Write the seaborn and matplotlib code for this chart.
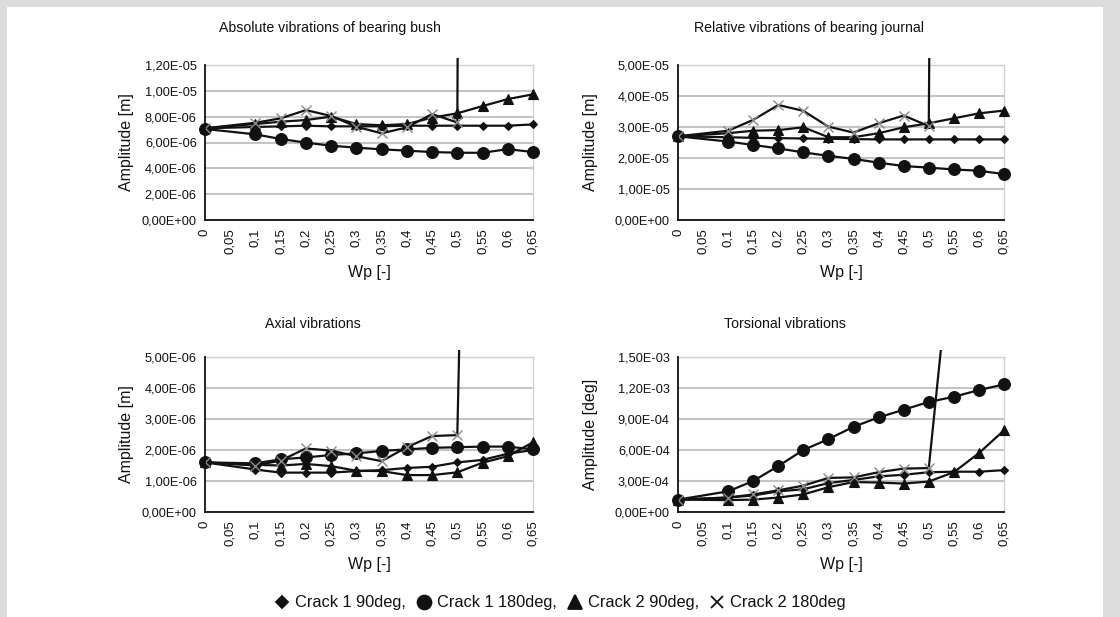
import numpy as np
import pandas as pd
import matplotlib
matplotlib.use("Agg")
import matplotlib.pyplot as plt
import seaborn as sns
from matplotlib.patches import Rectangle
from matplotlib.lines import Line2D

sns.set_theme(style="white")
plt.rcParams['font.family'] = ['Liberation Sans', 'DejaVu Sans']

# ---------------- data ----------------
wp = [0, 0.1, 0.15, 0.2, 0.25, 0.3, 0.35, 0.4, 0.45, 0.5, 0.55, 0.6, 0.65]
wp_ticks = [0, 0.05, 0.1, 0.15, 0.2, 0.25, 0.3, 0.35, 0.4, 0.45, 0.5, 0.55, 0.6, 0.65]
wp_labels = ["0", "0,05", "0,1", "0,15", "0,2", "0,25", "0,3", "0,35", "0,4", "0,45",
             "0,5", "0,55", "0,6", "0,65"]
series_names = ["Crack 1 90deg", "Crack 1 180deg", "Crack 2 90deg", "Crack 2 180deg"]

# Absolute vibrations of bearing bush [m]
abs_c1_90 = [7.1e-6, 7.2e-6, 7.25e-6, 7.3e-6, 7.25e-6, 7.25e-6, 7.25e-6, 7.3e-6, 7.3e-6, 7.3e-6, 7.3e-6, 7.3e-6, 7.4e-6]
abs_c1_180 = [7.05e-6, 6.63e-6, 6.27e-6, 5.99e-6, 5.75e-6, 5.6e-6, 5.47e-6, 5.37e-6, 5.26e-6, 5.21e-6, 5.2e-6, 5.49e-6, 5.26e-6]
abs_c2_90 = [7.1e-6, 7.43e-6, 7.61e-6, 7.74e-6, 8.0e-6, 7.43e-6, 7.33e-6, 7.43e-6, 7.92e-6, 8.26e-6, 8.82e-6, 9.36e-6, 9.73e-6]
abs_c2_180 = [7.1e-6, 7.53e-6, 7.87e-6, 8.51e-6, 8.05e-6, 7.22e-6, 6.71e-6, 7.17e-6, 8.2e-6, 7.55e-6, 4.0e-4, np.nan, np.nan]

# Relative vibrations of bearing journal [m]
rel_c1_90 = [2.7e-5, 2.67e-5, 2.65e-5, 2.64e-5, 2.63e-5, 2.62e-5, 2.61e-5, 2.6e-5, 2.6e-5, 2.6e-5, 2.6e-5, 2.6e-5, 2.6e-5]
rel_c1_180 = [2.7e-5, 2.53e-5, 2.42e-5, 2.31e-5, 2.18e-5, 2.07e-5, 1.97e-5, 1.85e-5, 1.74e-5, 1.69e-5, 1.63e-5, 1.59e-5, 1.48e-5]
rel_c2_90 = [2.7e-5, 2.8e-5, 2.88e-5, 2.9e-5, 2.99e-5, 2.67e-5, 2.67e-5, 2.8e-5, 2.99e-5, 3.12e-5, 3.28e-5, 3.44e-5, 3.53e-5]
rel_c2_180 = [2.7e-5, 2.88e-5, 3.23e-5, 3.71e-5, 3.52e-5, 3.01e-5, 2.82e-5, 3.12e-5, 3.37e-5, 3.03e-5, 1.2e-3, np.nan, np.nan]

# Axial vibrations [m]
ax_c1_90 = [1.6e-6, 1.37e-6, 1.27e-6, 1.27e-6, 1.27e-6, 1.32e-6, 1.35e-6, 1.42e-6, 1.46e-6, 1.6e-6, 1.68e-6, 1.88e-6, 2.0e-6]
ax_c1_180 = [1.6e-6, 1.57e-6, 1.7e-6, 1.76e-6, 1.84e-6, 1.89e-6, 1.97e-6, 2.02e-6, 2.07e-6, 2.09e-6, 2.11e-6, 2.11e-6, 2.02e-6]
ax_c2_90 = [1.6e-6, 1.52e-6, 1.5e-6, 1.55e-6, 1.48e-6, 1.33e-6, 1.32e-6, 1.19e-6, 1.19e-6, 1.28e-6, 1.59e-6, 1.8e-6, 2.25e-6]
ax_c2_180 = [1.6e-6, 1.5e-6, 1.66e-6, 2.05e-6, 1.98e-6, 1.8e-6, 1.64e-6, 2.09e-6, 2.45e-6, 2.48e-6, 4.0e-5, np.nan, np.nan]

# Torsional vibrations [deg]
tor_c1_90 = [1.2e-4, 1.4e-4, 1.6e-4, 2.0e-4, 2.2e-4, 2.8e-4, 3.1e-4, 3.45e-4, 3.6e-4, 3.85e-4, 3.9e-4, 3.9e-4, 4.05e-4]
tor_c1_180 = [1.2e-4, 2.0e-4, 3.0e-4, 4.45e-4, 6.0e-4, 7.05e-4, 8.25e-4, 9.15e-4, 9.9e-4, 1.065e-3, 1.115e-3, 1.18e-3, 1.235e-3]
tor_c2_90 = [1.2e-4, 1.15e-4, 1.2e-4, 1.4e-4, 1.7e-4, 2.4e-4, 2.9e-4, 2.85e-4, 2.75e-4, 2.95e-4, 3.85e-4, 5.7e-4, 7.9e-4]
tor_c2_180 = [1.2e-4, 1.4e-4, 1.7e-4, 2.1e-4, 2.55e-4, 3.3e-4, 3.35e-4, 3.85e-4, 4.2e-4, 4.25e-4, 2.8e-3, np.nan, np.nan]

titles = ["Absolute vibrations of bearing bush", "Relative vibrations of bearing journal",
          "Axial vibrations", "Torsional vibrations"]
ylabels = ["Amplitude [m]", "Amplitude [m]", "Amplitude [m]", "Amplitude [deg]"]
yticks_list = [
    [0, 2e-6, 4e-6, 6e-6, 8e-6, 1e-5, 1.2e-5],
    [0, 1e-5, 2e-5, 3e-5, 4e-5, 5e-5],
    [0, 1e-6, 2e-6, 3e-6, 4e-6, 5e-6],
    [0, 3e-4, 6e-4, 9e-4, 1.2e-3, 1.5e-3],
]
ylabels_ticks = [
    ["0,00E+00", "2,00E-06", "4,00E-06", "6,00E-06", "8,00E-06", "1,00E-05", "1,20E-05"],
    ["0,00E+00", "1,00E-05", "2,00E-05", "3,00E-05", "4,00E-05", "5,00E-05"],
    ["0,00E+00", "1,00E-06", "2,00E-06", "3,00E-06", "4,00E-06", "5,00E-06"],
    ["0,00E+00", "3,00E-04", "6,00E-04", "9,00E-04", "1,20E-03", "1,50E-03"],
]
panel_values = [
    [abs_c1_90, abs_c1_180, abs_c2_90, abs_c2_180],
    [rel_c1_90, rel_c1_180, rel_c2_90, rel_c2_180],
    [ax_c1_90, ax_c1_180, ax_c2_90, ax_c2_180],
    [tor_c1_90, tor_c1_180, tor_c2_90, tor_c2_180],
]

# ---------------- figure ----------------
W, H = 1120, 617
fig = plt.figure(figsize=(W / 100, H / 100), dpi=100)
fig.patch.set_facecolor("#dcdcdc")
fig.patches.append(Rectangle((7 / W, 0), (1103 - 7) / W, (H - 7) / H,
                             transform=fig.transFigure, facecolor="white",
                             edgecolor="none", zorder=-10))

# pixel boxes: left, top, right, bottom
boxes = [(205, 65, 533, 220), (678, 65, 1004, 220), (205, 357, 533, 512), (678, 357, 1004, 512)]
title_pos = [(330, 28), (809, 28), (313, 324), (785, 324)]
ylab_x = [127, 590, 127, 590]

marker_list = ["D", "o", "^", "x"]
msizes = [4.5, 8.5, 7, 7]
ink = "#111111"

for i in range(4):
    l, t, r, b = boxes[i]
    ax = fig.add_axes([l / W, 1 - b / H, (r - l) / W, (b - t) / H])
    ax.set_zorder(2)
    ax.set_facecolor("none")
    clip = Rectangle((0, 0), 1, 1 + 7 / (b - t), transform=ax.transAxes)
    for j, (name, vals) in enumerate(zip(series_names, panel_values[i])):
        df = pd.DataFrame({"Wp": wp, "Amp": vals})
        n_before = len(ax.lines)
        sns.lineplot(data=df, x="Wp", y="Amp", color=ink, marker=marker_list[j],
                     markersize=msizes[j], markerfacecolor=ink,
                     markeredgecolor=("#8a8a8a" if j == 3 else ink),
                     markeredgewidth=(1.0 if j == 3 else 0.8),
                     linewidth=1.6, ax=ax, legend=False, sort=False, zorder=3)
        for ln in ax.lines[n_before:]:
            if j == 3:
                ln.set_clip_path(clip)
            else:
                ln.set_clip_on(False)
    ax.set_xlim(0, 0.65)
    ax.set_ylim(yticks_list[i][0], yticks_list[i][-1])
    ax.set_xticks(wp_ticks)
    ax.set_xticklabels(wp_labels, rotation=90, fontsize=9.5)
    ax.set_yticks(yticks_list[i])
    ax.set_yticklabels(ylabels_ticks[i], fontsize=9.2)
    ax.grid(axis="y", color="#c4c4c4", linewidth=1.5, zorder=0)
    ax.grid(axis="x", visible=False)
    ax.tick_params(axis="both", direction="out", length=4, width=1.2, color=ink,
                   colors=ink, pad=2)
    for s in ["left", "bottom"]:
        ax.spines[s].set_color(ink)
        ax.spines[s].set_linewidth(1.3)
        ax.spines[s].set_zorder(4)
    for s in ["right", "top"]:
        ax.spines[s].set_color("#d0d0d0")
        ax.spines[s].set_linewidth(1.0)
    ax.set_xlabel("Wp [-]", fontsize=11.5, color=ink)
    ax.xaxis.label.set_va("center")
    ax.xaxis.set_label_coords(0.5, -52 / (b - t))
    ax.set_ylabel(ylabels[i], fontsize=11.5, color=ink)
    ax.yaxis.set_label_coords((ylab_x[i] - l) / (r - l), 0.5)
    ax.yaxis.label.set_va("center")
    fig.text(title_pos[i][0] / W, 1 - title_pos[i][1] / H, titles[i],
             ha="center", va="center", fontsize=10.2, color=ink)

# legend
handles = []
labels_leg = ["Crack 1 90deg,", "Crack 1 180deg,", "Crack 2 90deg,", "Crack 2 180deg"]
for j in range(4):
    handles.append(Line2D([], [], linestyle="none", marker=marker_list[j],
                          markersize=[6, 10, 10, 8][j], color=ink,
                          markeredgecolor=ink, markeredgewidth=1.3))
fig.legend(handles, labels_leg, loc="center", bbox_to_anchor=(560 / W, 1 - 603 / H),
           ncol=4, frameon=False, fontsize=11.8, handletextpad=0.3, columnspacing=0.6,
           handlelength=1.0, labelcolor=ink)

fig.savefig("out.png", dpi=100, facecolor=fig.get_facecolor())
